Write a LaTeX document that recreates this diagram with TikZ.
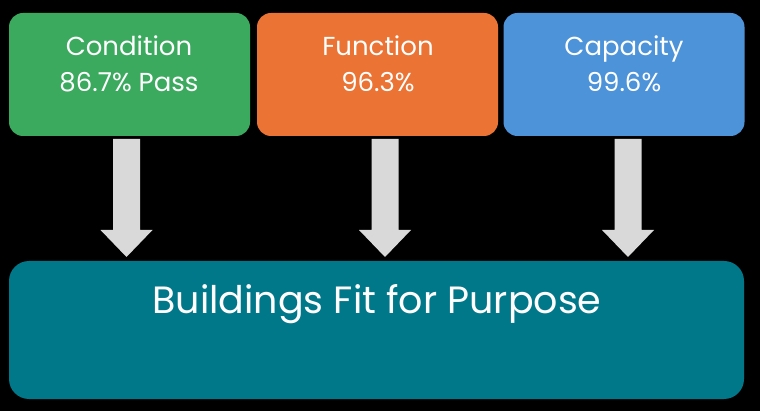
\documentclass[tikz,border=0pt]{standalone}
\usepackage{fontspec}
\setmainfont{Poppins}
\usetikzlibrary{calc}
\definecolor{cgreen}{HTML}{3BAA5E}
\definecolor{corange}{HTML}{EB7333}
\definecolor{cblue}{HTML}{4D93D9}
\definecolor{cteal}{HTML}{00788A}
\definecolor{cgray}{HTML}{D9D9D9}
\begin{document}
\begin{tikzpicture}[x=1pt,y=-1pt,
  box/.style={rounded corners=14pt, minimum height=123pt, minimum width=241pt, inner sep=0pt, draw=none},
  lbl/.style={text=white, font=\fontsize{26}{37}\selectfont, align=center, inner sep=0pt},
  blockarrow/.style={fill=cgray}]
\fill[black] (0,0) rectangle (760,411);
\useasboundingbox (0,0) rectangle (760,411);
\node[box, fill=cgreen] (g) at (129.5,74.5) {};
\node[box, fill=corange] (o) at (377.5,74.5) {};
\node[box, fill=cblue] (b) at (624,74.5) {};
\node[box, fill=cteal, rounded corners=20pt, minimum width=735pt, minimum height=138pt] (t) at (376.5,330) {};
\node[lbl, anchor=base] (g1) at (129,55.5) {Condition};
\node[lbl, anchor=base] (g2) at (129,92) {86.7\% Pass};
\node[lbl, anchor=base] (o1) at (378,55.5) {Function};
\node[lbl, anchor=base] (o2) at (378,92) {96.3\%};
\node[lbl, anchor=base] (b1) at (624,55.5) {Capacity};
\node[lbl, anchor=base] (b2) at (624,92) {99.6\%};
\node[lbl, anchor=base, font=\fontsize{38}{44}\selectfont] (tt) at (377,314) {Buildings Fit for Purpose};
\foreach \s/\x in {g/126.5, o/385, b/628} {
  \coordinate (top\s) at (\x,139);
  \coordinate (tip\s) at (\x,257);
  \fill[blockarrow] ($(top\s)+(-13.5,0)$) -- ($(top\s)+(13.5,0)$) -- ($(top\s)+(13.5,91)$) -- ($(top\s)+(26,91)$) -- (tip\s) -- ($(top\s)+(-26,91)$) -- ($(top\s)+(-13.5,91)$) -- cycle;
}
\end{tikzpicture}
\end{document}
